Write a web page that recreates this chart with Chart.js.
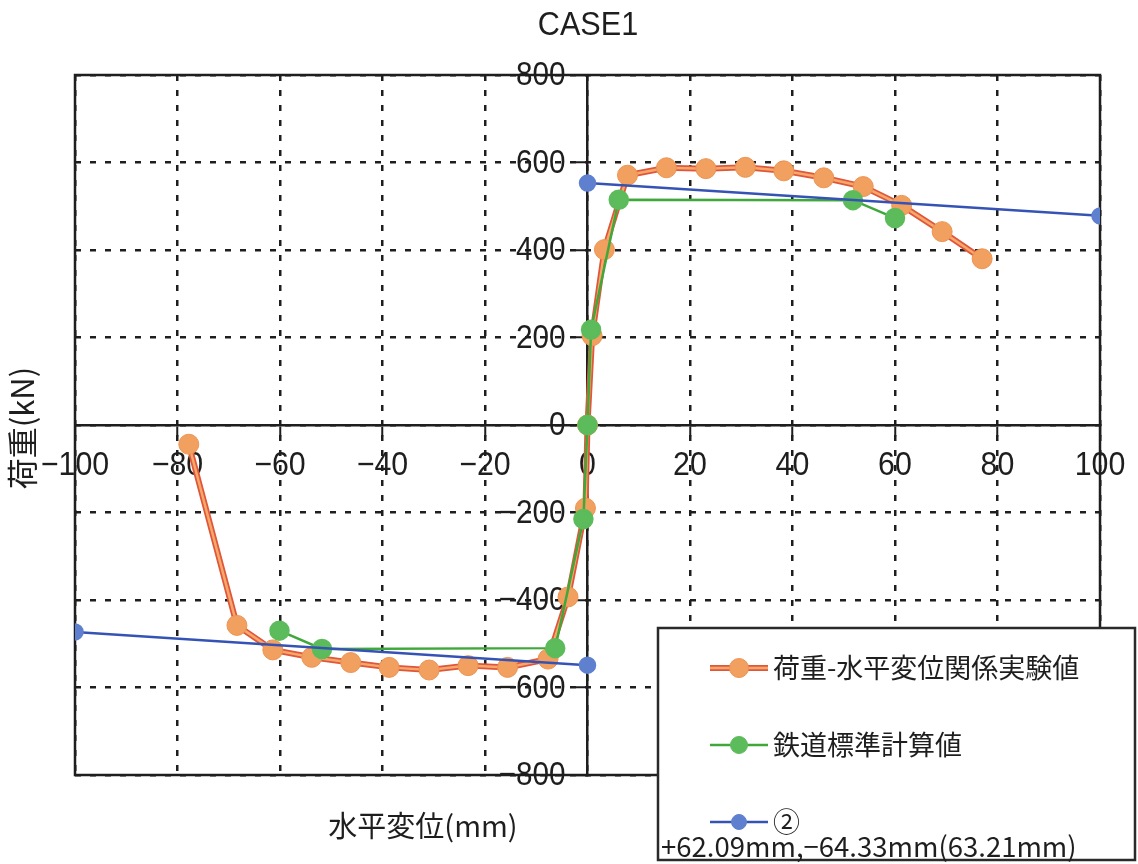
<!DOCTYPE html>
<html>
<head>
<meta charset="utf-8">
<script src="https://cdn.jsdelivr.net/npm/chart.js"></script>
<style>
  html, body { margin: 0; padding: 0; background: #fff; }
  #wrap { width: 1138px; height: 864px; }
</style>
</head>
<body>
<div id="wrap"><canvas id="myChart" width="1138" height="864"></canvas></div>
<script>
// 荷重-水平変位関係実験値 (envelope, negative side first)
let expX = [-77.8, -68.4, -61.4, -53.8, -46.2, -38.7, -30.9, -23.3, -15.6, -7.7, -3.8, -0.4, 0,
            0.9, 3.3, 7.8, 15.4, 23.1, 30.8, 38.3, 46.1, 53.8, 61.3, 69.2, 77.0];
let expY = [-44, -458, -514, -531, -543, -554, -560, -550, -554, -535, -393, -190, 0,
            204, 401, 571, 588, 586, 589, 581, 565, 545, 502, 442, 380];

// 鉄道標準計算値
let calcX = [-60.1, -51.8, -6.3, -0.8, 0, 0.7, 6.1, 51.8, 60.0];
let calcY = [-470, -512, -510, -215, 0, 218, 515, 514, 473];

// ② : two straight segments, negative and positive side
let lineNegX = [-100, 0];
let lineNegY = [-473, -549];
let linePosX = [0, 100];
let linePosY = [553, 478];

let seriesNames = ['荷重-水平変位関係実験値', '鉄道標準計算値', '②'];
let lineNote = '+62.09mm,−64.33mm(63.21mm)';
let chartTitle = 'CASE1';
let xTitle = '水平変位(mm)';
let yTitle = '荷重(kN)';

const xMin = -100, xMax = 100, xStep = 20;
const yMin = -800, yMax = 800, yStep = 200;

const pts = (xs, ys) => xs.map((x, i) => ({x: x, y: ys[i]}));
const blueLine = pts(lineNegX, lineNegY).concat([{x: 0, y: null}], pts(linePosX, linePosY));

const INK = '#1e1e1e';
const JP = '"Noto Sans CJK JP", "Noto Sans", sans-serif';
const LAT = '"Liberation Sans", Arial, sans-serif';
const fmt = v => String(v).replace('-', '−');

const sty = {
  expOuter: '#E0563A', expInner: '#F5A86A', expFill: '#F2A060', expEdge: '#EC9452',
  calc: '#3FA83A', calcFill: '#5CBB5A',
  blue: '#3553B5', blueFill: '#5E80CF'
};

// narrow-looking text: squeeze horizontally around the anchor point
function narrowText(ctx, text, x, y, squeeze) {
  ctx.save();
  ctx.translate(x, y);
  ctx.scale(squeeze, 1);
  ctx.fillText(text, 0, 0);
  ctx.restore();
}

// frame, tick labels next to the centred axes, titles and legend box
const decor = {
  id: 'decor',
  beforeDatasetsDraw(chart) {
    const {ctx, chartArea: a} = chart;
    const xs = chart.scales.x, ys = chart.scales.y;
    const axisX = xs.getPixelForValue(0);
    const axisY = ys.getPixelForValue(0);
    ctx.save();
    ctx.strokeStyle = INK;
    ctx.lineWidth = 2.5;
    ctx.strokeRect(a.left, a.top, a.right - a.left, a.bottom - a.top);

    ctx.fillStyle = INK;
    ctx.font = '33px ' + LAT;
    ctx.textBaseline = 'middle';
    ctx.textAlign = 'right';
    ys.ticks.forEach(t => {
      narrowText(ctx, fmt(t.value), axisX - 22, ys.getPixelForValue(t.value) + 1, 0.9);
    });
    ctx.textAlign = 'center';
    xs.ticks.forEach(t => {
      narrowText(ctx, fmt(t.value), xs.getPixelForValue(t.value), axisY + 41, 0.92);
    });
    ctx.restore();
  },
  afterDraw(chart) {
    const ctx = chart.ctx;
    ctx.save();
    ctx.fillStyle = INK;
    ctx.textBaseline = 'middle';

    ctx.textAlign = 'center';
    ctx.font = '34px ' + LAT;
    narrowText(ctx, chartTitle, 588, 26, 0.9);

    ctx.font = '29px ' + JP;
    ctx.fillText(xTitle, 423, 826);

    ctx.save();
    ctx.translate(22, 428);
    ctx.rotate(-Math.PI / 2);
    ctx.font = '31px ' + JP;
    ctx.fillText(yTitle, 0, 0);
    ctx.restore();

    // legend box
    const bx = 658, by = 628, bw = 477, bh = 232;
    ctx.fillStyle = '#fff';
    ctx.fillRect(bx, by, bw, bh);
    ctx.strokeStyle = '#2a2a2a';
    ctx.lineWidth = 2.5;
    ctx.strokeRect(bx, by, bw, bh);

    const rows = [
      {y: 668, lines: [[sty.expOuter, 6], [sty.expInner, 2.5]], fill: sty.expFill, edge: sty.expEdge, r: 9.5},
      {y: 745, lines: [[sty.calc, 2.5]], fill: sty.calcFill, edge: sty.calcFill, r: 8.5},
      {y: 822, lines: [[sty.blue, 2.5]], fill: sty.blueFill, edge: sty.blueFill, r: 7.5}
    ];
    rows.forEach((r, i) => {
      r.lines.forEach(([c, w]) => {
        ctx.strokeStyle = c;
        ctx.lineWidth = w;
        ctx.beginPath();
        ctx.moveTo(710, r.y);
        ctx.lineTo(768, r.y);
        ctx.stroke();
      });
      ctx.fillStyle = r.fill;
      ctx.strokeStyle = r.edge;
      ctx.lineWidth = 1;
      ctx.beginPath();
      ctx.arc(739, r.y, r.r, 0, Math.PI * 2);
      ctx.fill();
      ctx.stroke();
      ctx.fillStyle = INK;
      ctx.textAlign = 'left';
      ctx.font = '27px ' + JP;
      ctx.fillText(seriesNames[i], 773, r.y);
    });
    ctx.font = '27.5px ' + JP;
    ctx.fillText(lineNote, 661, 847);
    ctx.restore();
  }
};

new Chart(document.getElementById('myChart').getContext('2d'), {
  type: 'scatter',
  data: {
    datasets: [
      {
        label: seriesNames[0],
        data: pts(expX, expY),
        showLine: true,
        borderColor: sty.expOuter,
        borderWidth: 6,
        pointRadius: 0,
        order: 6
      },
      {
        label: seriesNames[0],
        data: pts(expX, expY),
        showLine: true,
        borderColor: sty.expInner,
        borderWidth: 2.5,
        pointRadius: 0,
        order: 5
      },
      {
        label: seriesNames[0],
        data: pts(expX, expY),
        showLine: false,
        pointRadius: 10,
        pointBackgroundColor: sty.expFill,
        pointBorderColor: sty.expEdge,
        pointBorderWidth: 1,
        order: 4
      },
      {
        label: seriesNames[1],
        data: pts(calcX, calcY),
        showLine: true,
        borderColor: sty.calc,
        borderWidth: 2.5,
        pointRadius: 9,
        pointBackgroundColor: sty.calcFill,
        pointBorderColor: sty.calcFill,
        order: 2
      },
      {
        label: seriesNames[2],
        data: blueLine,
        showLine: true,
        spanGaps: false,
        borderColor: sty.blue,
        borderWidth: 2.5,
        pointRadius: 7.5,
        pointBackgroundColor: sty.blueFill,
        pointBorderColor: sty.blueFill,
        order: 1
      }
    ]
  },
  options: {
    responsive: false,
    animation: false,
    layout: {padding: {left: 75, right: 38, top: 75, bottom: 89}},
    plugins: {
      legend: {display: false},
      title: {display: false},
      tooltip: {enabled: false}
    },
    scales: {
      x: {
        type: 'linear',
        min: xMin, max: xMax,
        position: {y: 0},
        ticks: {stepSize: xStep, autoSkip: false, display: false},
        grid: {color: INK, lineWidth: 2.5, tickLength: 10, tickColor: INK, tickWidth: 2},
        border: {display: true, color: INK, width: 2.5, dash: [6, 9]}
      },
      y: {
        type: 'linear',
        min: yMin, max: yMax,
        position: {x: 0},
        ticks: {stepSize: yStep, autoSkip: false, display: false},
        grid: {color: INK, lineWidth: 2.5, tickLength: 10, tickColor: INK, tickWidth: 2},
        border: {display: true, color: INK, width: 2.5, dash: [6, 9]}
      }
    }
  },
  plugins: [decor]
});
</script>
</body>
</html>
